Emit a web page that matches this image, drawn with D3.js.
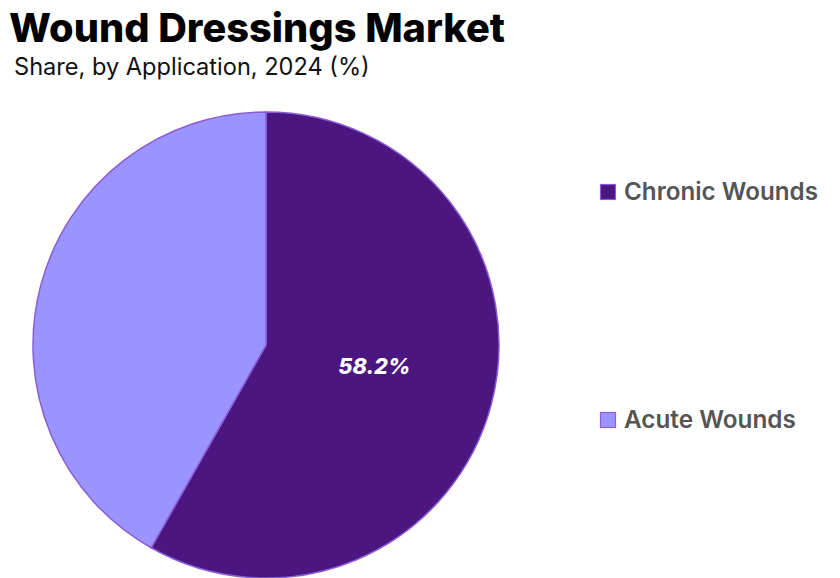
<!DOCTYPE html>
<html><head><meta charset="utf-8">
<script src="https://cdn.jsdelivr.net/npm/d3@7"></script>
<style>html,body{margin:0;padding:0;background:#fff;}svg{display:block;}</style>
</head><body>
<svg id="c" width="840" height="578"></svg>
<script>
const categories = ["Chronic Wounds", "Acute Wounds"];
const shares = [58.2, 41.8];
const labels = ["58.2%", ""];
const colors = ["#4c1680", "#9b94ff"];
const strokes = ["#8a5cd8", "#8a5cd8"];

const svg = d3.select("#c");
const cx = 266, cy = 345, r = 233;

function fitText(sel, target, base) {
  const w = sel.node().getComputedTextLength();
  sel.attr("font-size", base * target / w);
}

const title = svg.append("text").attr("x", 9).attr("y", 42)
  .attr("font-family", "Inter, 'Open Sans', sans-serif").attr("font-weight", 800)
  .attr("font-size", 36).attr("fill", "#000").text("Wound Dressings Market");
fitText(title, 496, 36);

const sub = svg.append("text").attr("x", 14).attr("y", 75)
  .attr("font-family", "Inter, 'Open Sans', sans-serif").attr("font-weight", 400)
  .attr("font-size", 22).attr("fill", "#111").text("Share, by Application, 2024 (%)");
fitText(sub, 356, 22);

const pie = d3.pie().sort(null).value(d => d)(shares);
const arc = d3.arc().innerRadius(0).outerRadius(r);
const labelArc = d3.arc().innerRadius(112).outerRadius(112);

const g = svg.append("g").attr("transform", `translate(${cx},${cy})`);
g.selectAll("path").data(pie).join("path")
  .attr("d", arc)
  .attr("fill", (d, i) => colors[i])
  .attr("stroke", (d, i) => strokes[i])
  .attr("stroke-width", 1.5);

g.selectAll("text.lbl").data(pie).join("text").attr("class", "lbl")
  .attr("transform", d => `translate(${labelArc.centroid(d)})`)
  .attr("text-anchor", "middle")
  .attr("font-family", "Inter, 'Open Sans', sans-serif")
  .attr("font-weight", 800).attr("font-style", "italic")
  .attr("font-size", 22).attr("fill", "#fff")
  .text((d, i) => labels[i])
  .each(function (d, i) { if (labels[i]) fitText(d3.select(this), 72, 22); });

const legY = d3.scalePoint().domain(categories).range([192, 420]);
const leg = svg.append("g").selectAll("g").data(categories).join("g")
  .attr("transform", d => `translate(600,${legY(d)})`);
leg.append("rect").attr("x", 0.5).attr("y", -7.5).attr("width", 15).attr("height", 15)
  .attr("fill", (d, i) => colors[i]).attr("stroke", (d, i) => strokes[i]).attr("stroke-width", 1.2);
leg.append("text").attr("x", 24).attr("y", 8)
  .attr("font-family", "Inter, 'Open Sans', sans-serif").attr("font-weight", 600)
  .attr("font-size", 21).attr("fill", "#555").text(d => d)
  .each(function (d, i) { fitText(d3.select(this), i === 0 ? 194 : 172, 21); });
</script>
</body></html>
